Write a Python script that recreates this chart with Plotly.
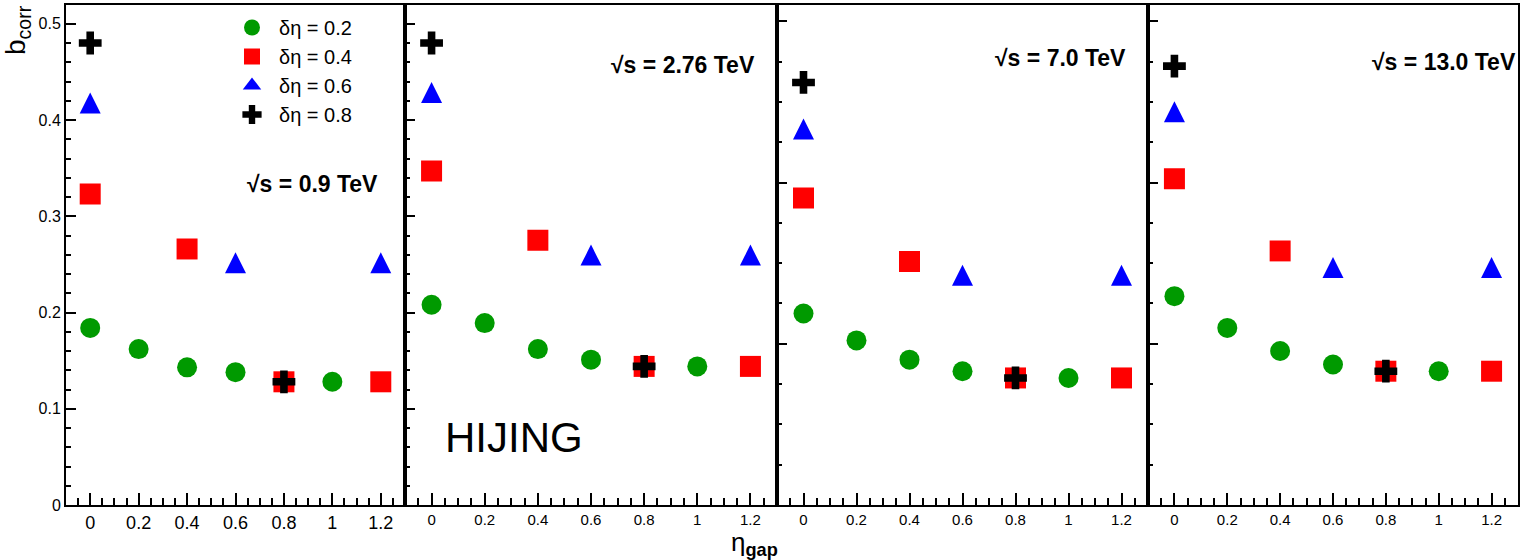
import plotly.graph_objects as go

# ---------------- data ----------------
energies = ["0.9", "2.76", "7.0", "13.0"]

x_green = [0.0, 0.2, 0.4, 0.6, 1.0]
x_red = [0.0, 0.4, 0.8, 1.2]
x_blue = [0.0, 0.6, 1.2]
x_black = [0.0, 0.8]

green_09 = [0.184, 0.162, 0.143, 0.138, 0.128]
green_276 = [0.208, 0.189, 0.162, 0.151, 0.144]
green_70 = [0.199, 0.171, 0.151, 0.139, 0.132]
green_130 = [0.217, 0.184, 0.160, 0.146, 0.139]

red_09 = [0.323, 0.266, 0.128, 0.128]
red_276 = [0.347, 0.275, 0.144, 0.144]
red_70 = [0.319, 0.253, 0.132, 0.132]
red_130 = [0.339, 0.264, 0.139, 0.139]

blue_09 = [0.414, 0.248, 0.248]
blue_276 = [0.425, 0.256, 0.256]
blue_70 = [0.387, 0.235, 0.235]
blue_130 = [0.405, 0.243, 0.243]

black_09 = [0.480, 0.128]
black_276 = [0.480, 0.144]
black_70 = [0.439, 0.132]
black_130 = [0.456, 0.139]

series_names = ["δη = 0.2", "δη = 0.4", "δη = 0.6", "δη = 0.8"]
x_ticks = [0, 0.2, 0.4, 0.6, 0.8, 1, 1.2]
x_ticklabels = ["0", "0.2", "0.4", "0.6", "0.8", "1", "1.2"]

panels = [
    (green_09, red_09, blue_09, black_09),
    (green_276, red_276, blue_276, black_276),
    (green_70, red_70, blue_70, black_70),
    (green_130, red_130, blue_130, black_130),
]

# ---------------- styles ----------------
W, H = 1520, 560
FONT = "Liberation Sans, Arial, sans-serif"
styles = [
    dict(symbol="circle", size=20, color="#009a00", angle=0, standoff=0),
    dict(symbol="square", size=21, color="#ff0000", angle=0, standoff=0),
    # upward triangle with equal width/height, centred on the point
    dict(symbol="arrow-down", size=21, color="#0000ff", angle=180, standoff=14),
    dict(symbol="cross", size=19, color="#000000", angle=0, standoff=0),
]
legend_symbols = ["circle", "square", "triangle-up", "cross"]
xs_all = [x_green, x_red, x_blue, x_black]

panel_px = [(66, 405), (405, 777), (777, 1148), (1148, 1518)]
y_dom = [1 - 505 / H, 1 - 4.5 / H]

fig = go.Figure()

for p, data in enumerate(panels):
    sfx = "" if p == 0 else str(p + 1)
    for k in range(4):
        st = styles[k]
        fig.add_trace(go.Scatter(
            x=xs_all[k], y=data[k], mode="markers",
            name=series_names[k],
            showlegend=False,
            marker=dict(symbol=st["symbol"], size=st["size"], color=st["color"],
                        angle=st["angle"], standoff=st["standoff"],
                        line=dict(width=0)),
            xaxis="x" + sfx, yaxis="y" + sfx,
        ))

# legend entries (no points drawn)
for k in range(4):
    fig.add_trace(go.Scatter(
        x=[None], y=[None], mode="markers", name=series_names[k],
        showlegend=True, legendrank=k + 1,
        marker=dict(symbol=legend_symbols[k], size=styles[k]["size"],
                    color=styles[k]["color"], line=dict(width=0)),
        xaxis="x", yaxis="y",
    ))

layout = dict(
    width=W, height=H,
    margin=dict(l=0, r=0, t=0, b=0, autoexpand=False),
    paper_bgcolor="white", plot_bgcolor="white",
    font=dict(family=FONT, color="black"),
    legend=dict(
        x=225 / W, y=1 - 8 / H, xanchor="left", yanchor="top",
        font=dict(size=20, family=FONT, color="black"),
        bgcolor="rgba(0,0,0,0)", borderwidth=0,
        itemwidth=44, itemsizing="trace",
    ),
)

for p in range(4):
    sfx = "" if p == 0 else str(p + 1)
    x0, x1 = panel_px[p]
    tick_size = 18 if p == 0 else 15
    layout["xaxis" + sfx] = dict(
        domain=[x0 / W, x1 / W], anchor="y" + sfx,
        range=[-0.1, 1.3], automargin=False,
        tickmode="array", tickvals=x_ticks, ticktext=x_ticklabels,
        ticks="inside", ticklen=12, tickwidth=2, tickcolor="black",
        minor=dict(dtick=0.05, tick0=0, ticks="inside", ticklen=7,
                   tickwidth=2, tickcolor="black", showgrid=False),
        showline=True, linewidth=2, linecolor="black", mirror=True,
        showgrid=False, zeroline=False,
        tickfont=dict(size=tick_size, family=FONT, color="black"),
        fixedrange=True,
    )
    if p < 2:
        major, minor = 0.1, 0.02
    else:
        major, minor = 0.1675, 0.041875
    layout["yaxis" + sfx] = dict(
        domain=y_dom, anchor="x" + sfx,
        range=[0, 0.52], automargin=False,
        tick0=0, dtick=major,
        ticks="inside", ticklen=10, tickwidth=2, tickcolor="black",
        minor=dict(dtick=minor, tick0=0, ticks="inside", ticklen=5,
                   tickwidth=2, tickcolor="black", showgrid=False),
        showline=True, linewidth=2, linecolor="black", mirror=True,
        showgrid=False, zeroline=False,
        showticklabels=(p == 0),
        tickfont=dict(size=16, family=FONT, color="black"),
        fixedrange=True,
    )

fig.update_layout(**layout)

# energy labels
energy_pos = [(380, 184, "right"), (757, 65, "right"), (1128, 58, "right"), (1370, 62, "left")]
for (px, py, anc), e in zip(energy_pos, energies):
    fig.add_annotation(
        x=px / W, y=1 - py / H, xref="paper", yref="paper",
        xanchor=anc, yanchor="middle", showarrow=False,
        text="<b>√s = " + e + " TeV</b>",
        font=dict(size=23, family=FONT, color="black"),
    )

fig.add_annotation(
    x=514 / W, y=1 - 437 / H, xref="paper", yref="paper",
    xanchor="center", yanchor="middle", showarrow=False,
    text="HIJING", font=dict(size=42, family=FONT, color="black"),
)

fig.add_annotation(
    x=17 / W, y=1 - 30 / H, xref="paper", yref="paper",
    xanchor="center", yanchor="middle", showarrow=False, textangle=-90,
    text="b<sub>corr</sub>", font=dict(size=28, family=FONT, color="black"),
)

fig.add_annotation(
    x=754 / W, y=1 - 543 / H, xref="paper", yref="paper",
    xanchor="center", yanchor="middle", showarrow=False,
    text="η<sub><b>gap</b></sub>", font=dict(size=26, family=FONT, color="black"),
)

fig.write_html("out.html")
